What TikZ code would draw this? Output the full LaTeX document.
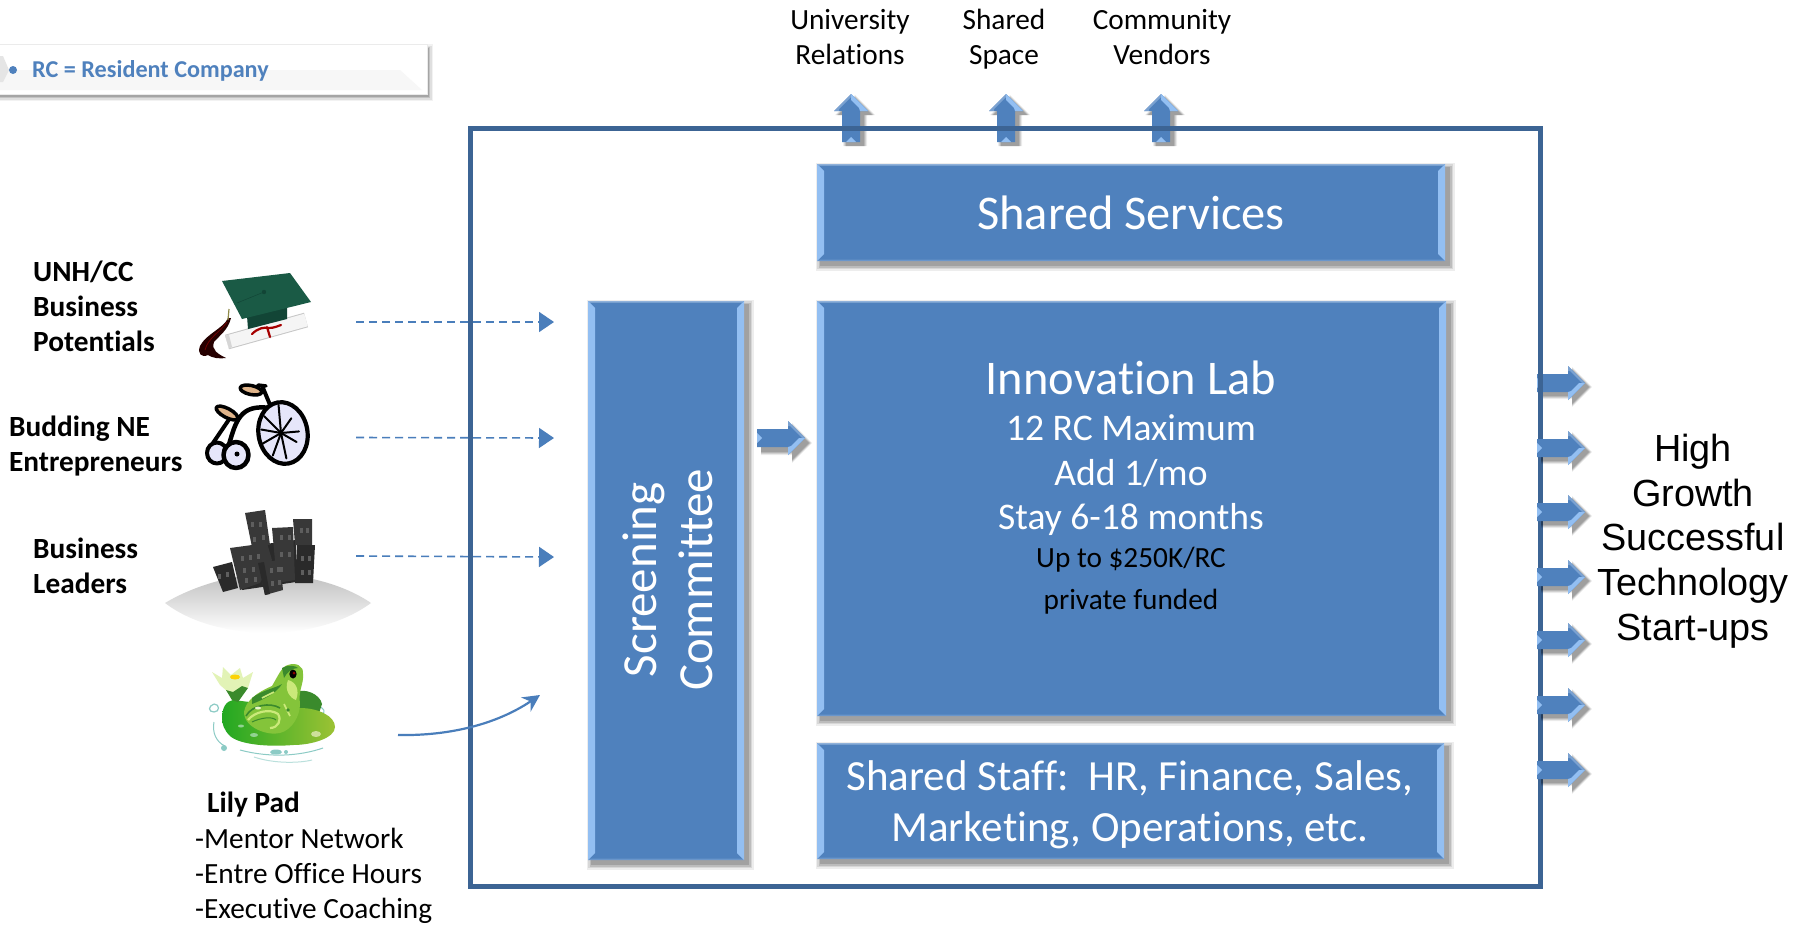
\documentclass[tikz,border=0pt]{standalone}
\usepackage{fontspec}
\setmainfont[Ligatures=NoCommon]{Carlito}
\newfontfamily\arialfont{Liberation Sans}
\usetikzlibrary{arrows.meta,calc}
\definecolor{boxblue}{HTML}{4F81BD}
\definecolor{boxlight}{HTML}{93BFF2}
\definecolor{boxtop}{HTML}{8FB1DA}
\definecolor{boxbot}{HTML}{6A96CB}
\definecolor{framec}{HTML}{3C6494}
\definecolor{dashc}{HTML}{4A7EBB}
\definecolor{capg}{HTML}{1A5A45}
\definecolor{capd}{HTML}{124536}
\definecolor{wheelc}{HTML}{E6E6FA}
\definecolor{tanc}{HTML}{E0B48A}
\definecolor{bldg}{HTML}{383838}
\definecolor{bldgs}{HTML}{2A2A2A}
\definecolor{bldgw}{HTML}{5E5E5E}
\definecolor{padg}{HTML}{22A822}
\definecolor{pady}{HTML}{9CC234}
\definecolor{frogg}{HTML}{84C43A}
\definecolor{frogl}{HTML}{CBE97A}
\definecolor{frogd}{HTML}{3A8A2C}
\definecolor{teal}{HTML}{8CCBC5}
\tikzset{
  boxnode/.style={rectangle,fill=boxblue,draw=none,text=white,inner sep=0pt,align=center},
  blacklabel/.style={text=black,inner sep=0pt},
  leftlabel/.style={blacklabel,align=left,anchor=west,font=\fontsize{29.3}{35}\selectfont\bfseries},
  toplabel/.style={blacklabel,align=center,font=\fontsize{29.3}{35}\selectfont},
  feed/.style={draw=dashc,line width=1.6pt,dash pattern=on 8pt off 5pt,-{Triangle[length=15pt,width=20pt,fill=dashc]}},
  curved/.style={draw=dashc,line width=2.2pt,-{Stealth[length=17pt,width=17pt]}},
  bface/.style={fill=bldg,draw=none},
  bside/.style={fill=bldgs,draw=none},
}
% bevelled box: name, x0, y0, x1, y1, text
\newcommand{\bevelbox}[6]{%
  \foreach \dd/\oo in {5.5/.07,4/.09,2.5/.12,1/.14}{%
    \fill[black,opacity=\oo] ({#2+4-\dd},{#3+4-\dd}) rectangle ({#4+4+\dd},{#5+4+\dd});}
  \node[boxnode,minimum width={(#4-#2)*1pt},minimum height={(#5-#3)*1pt}] (#1) at ({(#2+#4)/2},{(#3+#5)/2}) {#6};
  \fill[boxtop] (#2,#3) -- (#4,#3) -- ({#4-2},{#3+1.5}) -- ({#2+2},{#3+1.5}) -- cycle;
  \fill[boxbot] (#2,#5) -- (#4,#5) -- ({#4-2},{#5-1.5}) -- ({#2+2},{#5-1.5}) -- cycle;
  \fill[boxlight] (#2,#3) -- ({#2+7},{#3+7}) -- ({#2+7},{#5-7}) -- (#2,#5) -- cycle;
  \fill[boxlight] (#4,#3) -- ({#4-7},{#3+7}) -- ({#4-7},{#5-7}) -- (#4,#5) -- cycle;
}
% block arrow: x, y (tail centre), rotation, shadow dx, shadow dy (local)
\newcommand{\blockarrow}[5]{%
  \begin{scope}[shift={(#1,#2)},rotate=#3]
    \foreach \dd/\oo in {3/.07,2/.1,1/.12,0/.14}{%
      \fill[black,opacity=\oo,line join=round] ({#4},{#5-9-\dd}) -- ({#4+31},{#5-9-\dd}) -- ({#4+31},{#5-17-\dd}) -- ({#4+48+\dd},{#5}) -- ({#4+31},{#5+17+\dd}) -- ({#4+31},{#5+9+\dd}) -- ({#4},{#5+9+\dd}) -- cycle;}
    \fill[boxblue] (0,-9) -- (31,-9) -- (31,-17) -- (48,0) -- (31,17) -- (31,9) -- (0,9) -- cycle;
    \fill[boxlight] (31,17) -- (48,0) -- (42,0) -- (34,8) -- (31,9) -- cycle;
    \fill[boxtop,opacity=.7] (31,-17) -- (48,0) -- (45,0) -- (33,-12) -- (31,-12) -- cycle;
    \fill[boxlight] (0,-5) -- (5,0) -- (0,5) -- cycle;
  \end{scope}
}
\begin{document}
\begin{tikzpicture}[x=1pt,y=-1pt]
\clip (0,0) rectangle (1796,924);
\fill[white] (0,0) rectangle (1796,924);

% ---- legend
\foreach \dd/\oo in {5/.05,3.5/.08,2/.12,1/.15}{%
  \fill[black,opacity=\oo] (-10,{47-\dd+2}) rectangle ({426+2+\dd},{94+2+\dd});}
\node[rectangle,fill=white,draw=black!8,line width=.6pt,minimum width=437pt,minimum height=50pt,inner sep=0pt] (legend) at (208.5,69) {};
\fill[black!3] (0,70) -- (400,70) -- (422,90) -- (0,90) -- cycle;
\fill[black!10] (0,56) -- (3,56) -- (9,70) -- (3,82) -- (0,82) -- cycle;
\node[circle,fill=boxblue,minimum size=8pt,inner sep=0pt] (bullet) at (13,70) {};
\node[anchor=west,inner sep=0pt,text=boxblue,font=\fontsize{24.2}{28}\selectfont\bfseries] (legendtext) at (32,71) {RC = Resident Company};

% ---- arrows beneath the frame
\blockarrow{851}{142}{90}{-4}{4}
\blockarrow{1006}{142}{90}{-4}{4}
\blockarrow{1161}{142}{90}{-4}{4}
\blockarrow{1537}{383}{0}{4}{4}

% ---- frame
\node[rectangle,draw=framec,line width=5pt,minimum width=1070pt,minimum height=758pt,inner sep=0pt] (frame) at (1005,507) {};

% ---- boxes
\bevelbox{services}{817}{164}{1445}{261}{\fontsize{48.4}{54}\selectfont Shared Services}
\bevelbox{lab}{817}{301}{1446}{716}{}
\bevelbox{staff}{817}{743}{1444}{859}{}
\bevelbox{screen}{588}{301}{744}{860}{}

\node[blacklabel,text=white,font=\fontsize{48.4}{54}\selectfont] (labtitle) at (1131,378) {Innovation Lab};
\node[blacklabel,text=white,font=\fontsize{37.6}{44}\selectfont] (lab1) at (1131,428) {12 RC Maximum};
\node[blacklabel,text=white,font=\fontsize{37.6}{44}\selectfont] (lab2) at (1131,473) {Add 1/mo};
\node[blacklabel,text=white,font=\fontsize{37.6}{44}\selectfont] (lab3) at (1131,519) {Stay 6-18 months};
\node[blacklabel,font=\fontsize{29.3}{35}\selectfont] (lab4) at (1131,560) {Up to \$250K/RC};
\node[blacklabel,font=\fontsize{29.3}{35}\selectfont] (lab5) at (1131,602) {private funded};
\node[blacklabel,text=white,align=center,font=\fontsize{43}{51}\selectfont] (stafftext) at (1130,805) {Shared Staff:\ \ HR, Finance, Sales,\\Marketing, Operations, etc.};
\node[blacklabel,text=white,rotate=90,align=center,font=\fontsize{49}{56}\selectfont] (screentext) at (668,580) {Screening\\Committee};

% ---- arrow screening to lab
\blockarrow{757}{438}{0}{4}{5}

% ---- arrows on top of frame
\blockarrow{1537}{448}{0}{4}{4}
\blockarrow{1537}{512}{0}{4}{4}
\blockarrow{1537}{577}{0}{4}{4}
\blockarrow{1537}{640}{0}{4}{4}
\blockarrow{1537}{705}{0}{4}{4}
\blockarrow{1537}{770}{0}{4}{4}

% ---- top labels
\node[toplabel] (univ) at (850,40) {University\strut\\Relations\strut};
\node[toplabel] (space) at (1004,40) {Shared\strut\\Space\strut};
\node[toplabel] (vendors) at (1162,40) {Community\strut\\Vendors\strut};

% ---- left labels
\node[leftlabel] (unh) at (33,306) {UNH/CC\\Business\\Potentials};
\node[leftlabel] (budding) at (9,446) {Budding NE\\Entrepreneurs};
\node[leftlabel] (leaders) at (33,566) {Business\\Leaders};
\node[blacklabel,anchor=west,font=\fontsize{29.3}{35}\selectfont\bfseries] (lily) at (207,805) {Lily Pad};
\node[blacklabel,anchor=north west,align=left,font=\fontsize{29.3}{35}\selectfont] (lilylist) at (195,828) {-Mentor Network\\-Entre Office Hours\\-Executive Coaching};

% ---- right label
\node[blacklabel,align=center,font=\fontsize{37.8}{44.7}\selectfont\arialfont] (highgrowth) at (1693,541) {High\\Growth\\Successful\\Technology\\Start-ups};

% ---- connectors
\coordinate (d1s) at (356,322); \coordinate (d1e) at (554,322);
\coordinate (d2s) at (356,437.5); \coordinate (d2e) at (554,438);
\coordinate (d3s) at (356,556); \coordinate (d3e) at (554,557);
\draw[feed] (d1s) -- (d1e);
\draw[feed] (d2s) -- (d2e);
\draw[feed] (d3s) -- (d3e);
\coordinate (cs) at (398,735); \coordinate (ce) at (540,695);
\draw[curved] (cs) .. controls (450,736) and (497,724) .. (ce);

% ---- graduation cap
\draw[black!22,line width=15pt] (227,342) -- (306,320);
\draw[black!4,line width=13pt] (227,342) -- (306,320);
\fill[black!16] (225,335.5) -- (229,348.5) -- (232,347) -- (229,335) -- cycle;
\fill[capd] (247,316) -- (287,306) -- (287,319) -- (248,329) -- cycle;
\fill[capg] (222,281) -- (290,273) -- (311,302) -- (242,319) -- cycle;
\fill[capd] (264,292) circle (2.2);
\draw[capd,line width=.5pt] (264,292) -- (237,303);
\draw[red!65!black,line width=2.2pt,line cap=round] (252,334) .. controls (258,328) and (264,327) .. (269,328) .. controls (274,328) and (278,326) .. (281,325);
\draw[red!65!black,line width=2.2pt,line cap=round] (267,327) -- (270,337);
\fill[black!85!red] (228,318) .. controls (224,328) and (206,334) .. (200,346)
   .. controls (197,354) and (202,358) .. (208,355)
   .. controls (212,358) and (220,359) .. (226,358)
   .. controls (218,354) and (211,350) .. (214,342)
   .. controls (220,335) and (228,330) .. (231,318) -- cycle;
\draw[red!45!black,line width=.8pt] (227,322) .. controls (220,332) and (208,338) .. (205,350);
\draw[yellow!50!black,line width=1.2pt] (229,309) -- (228,320);

% ---- bicycle
\begin{scope}[line cap=round,line join=round]
  \draw[black,line width=4pt] (230,418) -- (213,443);
  \draw[black,line width=4.5pt] (270,408) .. controls (240,404) and (236,420) .. (228,448);
  \draw[black,line width=4pt] (263,388) -- (273,412);
  \draw[black,line width=3.5pt,fill=tanc,rotate around={-28:(227,413)}] (227,413) ellipse (12 and 4.5);
  \draw[black,line width=3.5pt,fill=tanc,rotate around={-12:(251,390)}] (251,390) ellipse (11 and 4.5);
  \draw[black,line width=3.5pt] (258,385) -- (266,386);
  \draw[black,line width=4.2pt,fill=wheelc,rotate around={10:(283,433)}] (283,433) ellipse (24.5 and 31);
  \foreach \a/\l in {-5/18,30/18,78/26,110/24,150/22,190/20,225/24,265/28,305/18}{\draw[black,line width=2pt] (281,433) -- ++(\a:\l);}
  \draw[black,line width=4pt,fill=wheelc] (217,453) ellipse (10 and 10.5);
  \draw[black,line width=4.5pt,fill=wheelc] (236,455) ellipse (12.5 and 13);
  \fill[black] (237,454) circle (2.5);
\end{scope}

% ---- city
\shade[top color=black!25,bottom color=white] (165,603) .. controls (195,585) and (235,574) .. (268,574) .. controls (305,574) and (345,585) .. (371,603) .. controls (345,622) and (310,632) .. (268,633) .. controls (225,632) and (190,622) .. (165,603) -- cycle;
\fill[bside] (250,546) -- (296,540) -- (296,582) -- (242,590) -- cycle;
\fill[bface] (245,513) -- (265,510) -- (270,545) -- (252,547) -- cycle;
\fill[bface] (272,528) -- (293,527) -- (295,580) -- (277,583) -- cycle;
\fill[bface] (293,519) -- (312,519) -- (312,547) -- (295,545) -- cycle;
\fill[bside] (297,545) -- (315,545) -- (313,583) -- (295,583) -- cycle;
\fill[bface] (230,548) -- (267,543) -- (272,560) -- (260,583) -- (240,590) -- cycle;
\fill[bside] (213,567) -- (232,562) -- (238,588) -- (223,592) -- cycle;
\fill[bface] (258,563) -- (280,560) -- (283,590) -- (265,595) -- cycle;
\fill[bside] (258,563) -- (264,562) -- (270,594) -- (265,595) -- cycle;
\foreach \x/\y in {251/522,259/522,253/537,262/535,280/535,288/535,280/552,288/552,280/567,300/528,306/528,301/556,308/556,301/570,308/570,241/556,249/555,257/554,243/568,252/567,245/578,254/577,270/568,277/567,271/581,278/580,218/574,226/572}{%
  \fill[bldgw] (\x,\y) rectangle ++(2.5,5);}

% ---- frog on lily pad
\draw[teal,line width=1.2pt] (214,704) .. controls (208,706) and (208,712) .. (214,712) .. controls (220,712) and (220,704) .. (214,704);
\draw[teal,line width=1pt] (214,722) .. controls (212,732) and (216,742) .. (225,746);
\draw[teal,line width=1pt] (240,750) .. controls (270,758) and (300,756) .. (323,748);
\draw[teal!60,line width=1pt] (254,757) .. controls (275,764) and (300,763) .. (312,760);
\draw[teal,line width=1pt] (318,706) .. controls (324,708) and (326,712) .. (322,714);
\fill[teal] (224,748) circle (3);
\fill[teal] (276,752) ellipse (6 and 2.5);
\fill[teal] (286,752) circle (2);
\fill[frogd] (296,692) .. controls (305,688) and (320,694) .. (322,704) -- (318,716) -- (296,712) -- cycle;
\shade[left color=padg,right color=pady] (222,718) .. controls (222,708) and (226,701) .. (233,700) -- (300,708) .. controls (318,708) and (335,716) .. (335,727) .. controls (335,738) and (312,745) .. (293,745) .. controls (270,747) and (240,745) .. (230,736) .. controls (224,730) and (222,724) .. (222,718) -- cycle;
\fill[pady!50!white] (316,734) ellipse (5 and 3);
\fill[padg!50!white] (254,735) ellipse (4 and 2);
\fill[padg!50!white] (241,726) ellipse (3 and 1.5);
% frog
\fill[frogg] (244,712) .. controls (246,700) and (258,692) .. (272,686) .. controls (278,676) and (282,666) .. (288,665) .. controls (296,662) and (304,666) .. (303,674) .. controls (304,684) and (298,690) .. (300,704) .. controls (300,716) and (292,730) .. (280,733) .. controls (268,736) and (244,728) .. (244,712) -- cycle;
\fill[frogd] (252,698) .. controls (262,690) and (276,688) .. (282,684) .. controls (276,694) and (262,700) .. (252,704) -- cycle;
\fill[frogd] (282,668) .. controls (288,664) and (296,666) .. (298,668) .. controls (292,668) and (287,672) .. (284,678) -- cycle;
\fill[frogl] (288,680) .. controls (296,682) and (300,690) .. (296,700) .. controls (290,698) and (284,690) .. (288,680) -- cycle;
\draw[frogd,line width=1.6pt] (246,716) .. controls (252,705) and (270,702) .. (280,708);
\draw[frogl,line width=2.2pt] (248,720) .. controls (254,712) and (270,708) .. (278,714) .. controls (282,720) and (278,728) .. (270,728);
\draw[frogd,line width=1pt] (252,722) .. controls (260,718) and (272,716) .. (276,720);
\draw[frogl,line width=1.6pt] (262,698) -- (274,692);
\draw[frogl,line width=1.6pt] (284,704) -- (290,716);
\fill[white!60!frogl] (258,708) ellipse (3 and 1.5);
\fill[frogd] (288,710) circle (1.8);
\fill[black] (293,674) ellipse (3.6 and 4.5);
\fill[red!55!black] (294,673) circle (1.5);
% lily flower
\fill[frogl!55!white] (212,672) -- (222,678) -- (223,667) -- (231,675) -- (240,668) -- (243,678) -- (253,672) -- (248,688) -- (235,698) -- (220,685) -- cycle;
\fill[frogd] (226,690) -- (233,692) -- (242,686) -- (248,688) -- (238,702) -- (232,700) -- cycle;
\fill[yellow!70!orange] (235,677) ellipse (5 and 2.5);
\end{tikzpicture}
\end{document}
